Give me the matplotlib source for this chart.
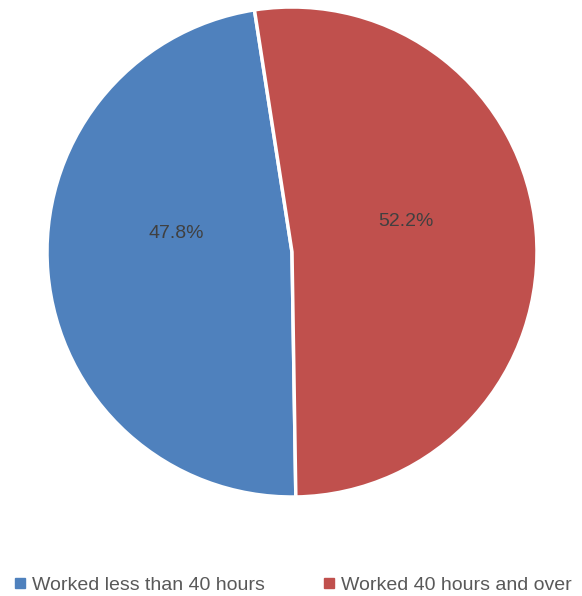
import matplotlib.pyplot as plt
import numpy as np
from matplotlib.lines import Line2D

labels = ["Worked less than 40 hours", "Worked 40 hours and over"]
values = [47.8, 52.2]
colors = ["#4F81BD", "#C0504D"]
text_color = "#595959"

plt.rcParams['font.family'] = ['Liberation Sans', 'DejaVu Sans']

fig = plt.figure(figsize=(5.82, 5.96), dpi=100)
ax = fig.add_axes([47 / 582, 99 / 596, 490 / 582, 490 / 596])

wedges, _ = ax.pie(values, colors=colors, startangle=-89.1, counterclock=False,
                   wedgeprops=dict(edgecolor="white", linewidth=2.5))
# label angle shifts so they sit where the original puts them
shifts = [-14, 10]
for w, v, s in zip(wedges, values, shifts):
    mid = np.deg2rad((w.theta1 + w.theta2) / 2 + s)
    ax.text(0.48 * np.cos(mid), 0.48 * np.sin(mid), f"{v:.1f}%",
            ha="center", va="center", fontsize=14, color="#404040")
ax.set_xlim(-1, 1)
ax.set_ylim(-1, 1)
ax.set_aspect("equal")

handles = [Line2D([], [], marker="s", linestyle="", markersize=7, color=c) for c in colors]
fig.legend(handles, labels, loc="center", bbox_to_anchor=(0.5, 11 / 596), ncol=2,
           frameon=False, fontsize=14, labelcolor=text_color, handletextpad=0.1,
           columnspacing=2.8, handlelength=1.0, borderpad=0.2)

fig.savefig("out.png", dpi=100)
